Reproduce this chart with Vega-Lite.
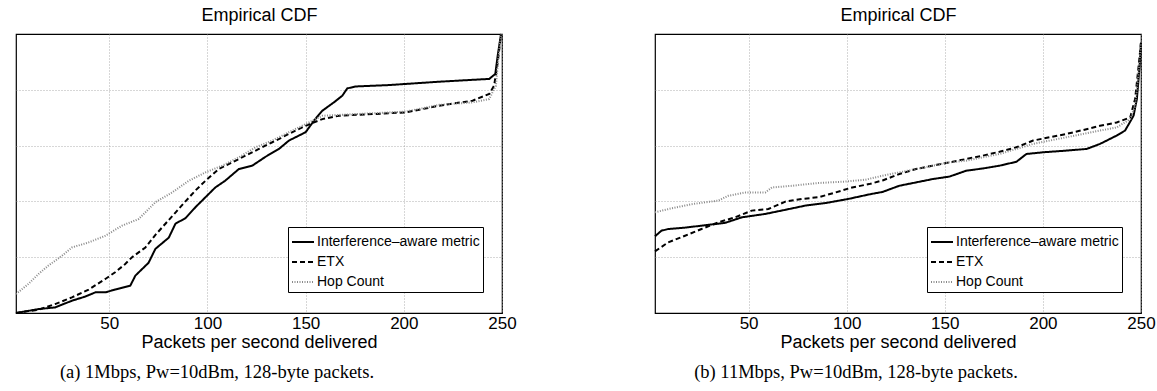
{
  "$schema": "https://vega.github.io/schema/vega-lite/v6.json",
  "padding": {"left": 11, "top": 5, "right": 0, "bottom": 0},
  "background": "white",
  "config": {
    "view": {"stroke": "black", "strokeWidth": 1.2},
    "font": "Liberation Sans",
    "axis": {"labelColor": "black", "titleColor": "black", "titleFontWeight": "normal", "labelFont": "Liberation Sans", "titleFont": "Liberation Sans"},
    "legend": {"labelLimit": 400},
    "title": {"color": "black"}
  },
  "datasets": {
    "cdf": [
      {"p":"a","m":"Interference–aware metric","x":2.5,"y":0},
      {"p":"a","m":"Interference–aware metric","x":14,"y":0.014},
      {"p":"a","m":"Interference–aware metric","x":22.4,"y":0.02},
      {"p":"a","m":"Interference–aware metric","x":31,"y":0.044},
      {"p":"a","m":"Interference–aware metric","x":37.8,"y":0.059},
      {"p":"a","m":"Interference–aware metric","x":42.9,"y":0.074},
      {"p":"a","m":"Interference–aware metric","x":48,"y":0.074},
      {"p":"a","m":"Interference–aware metric","x":53,"y":0.084},
      {"p":"a","m":"Interference–aware metric","x":60.7,"y":0.098},
      {"p":"a","m":"Interference–aware metric","x":63.3,"y":0.134},
      {"p":"a","m":"Interference–aware metric","x":70,"y":0.18},
      {"p":"a","m":"Interference–aware metric","x":73.5,"y":0.23},
      {"p":"a","m":"Interference–aware metric","x":80.3,"y":0.27},
      {"p":"a","m":"Interference–aware metric","x":83.7,"y":0.32},
      {"p":"a","m":"Interference–aware metric","x":88.8,"y":0.34},
      {"p":"a","m":"Interference–aware metric","x":94,"y":0.38},
      {"p":"a","m":"Interference–aware metric","x":99,"y":0.415},
      {"p":"a","m":"Interference–aware metric","x":104,"y":0.45},
      {"p":"a","m":"Interference–aware metric","x":109,"y":0.474},
      {"p":"a","m":"Interference–aware metric","x":116,"y":0.516},
      {"p":"a","m":"Interference–aware metric","x":122.8,"y":0.528},
      {"p":"a","m":"Interference–aware metric","x":129.6,"y":0.56},
      {"p":"a","m":"Interference–aware metric","x":136.4,"y":0.588},
      {"p":"a","m":"Interference–aware metric","x":141.5,"y":0.618},
      {"p":"a","m":"Interference–aware metric","x":150,"y":0.648},
      {"p":"a","m":"Interference–aware metric","x":154.3,"y":0.69},
      {"p":"a","m":"Interference–aware metric","x":158.5,"y":0.725},
      {"p":"a","m":"Interference–aware metric","x":164.4,"y":0.755},
      {"p":"a","m":"Interference–aware metric","x":168.7,"y":0.779},
      {"p":"a","m":"Interference–aware metric","x":171.2,"y":0.805},
      {"p":"a","m":"Interference–aware metric","x":175.5,"y":0.812},
      {"p":"a","m":"Interference–aware metric","x":192.5,"y":0.817},
      {"p":"a","m":"Interference–aware metric","x":218,"y":0.829},
      {"p":"a","m":"Interference–aware metric","x":243.5,"y":0.839},
      {"p":"a","m":"Interference–aware metric","x":246.6,"y":0.857},
      {"p":"a","m":"Interference–aware metric","x":247.8,"y":0.922},
      {"p":"a","m":"Interference–aware metric","x":249.5,"y":1.0},
      {"p":"a","m":"ETX","x":2.5,"y":0},
      {"p":"a","m":"ETX","x":14,"y":0.012},
      {"p":"a","m":"ETX","x":22.4,"y":0.032},
      {"p":"a","m":"ETX","x":31,"y":0.056},
      {"p":"a","m":"ETX","x":39.5,"y":0.084},
      {"p":"a","m":"ETX","x":48,"y":0.122},
      {"p":"a","m":"ETX","x":53,"y":0.146},
      {"p":"a","m":"ETX","x":58,"y":0.175},
      {"p":"a","m":"ETX","x":61.6,"y":0.2},
      {"p":"a","m":"ETX","x":68.4,"y":0.235},
      {"p":"a","m":"ETX","x":73.5,"y":0.28},
      {"p":"a","m":"ETX","x":78.6,"y":0.32},
      {"p":"a","m":"ETX","x":83.7,"y":0.36},
      {"p":"a","m":"ETX","x":88.8,"y":0.4},
      {"p":"a","m":"ETX","x":94,"y":0.44},
      {"p":"a","m":"ETX","x":99,"y":0.474},
      {"p":"a","m":"ETX","x":105.8,"y":0.516},
      {"p":"a","m":"ETX","x":112.6,"y":0.54},
      {"p":"a","m":"ETX","x":119.4,"y":0.564},
      {"p":"a","m":"ETX","x":126.2,"y":0.588},
      {"p":"a","m":"ETX","x":133,"y":0.612},
      {"p":"a","m":"ETX","x":141.5,"y":0.642},
      {"p":"a","m":"ETX","x":150,"y":0.671},
      {"p":"a","m":"ETX","x":158.5,"y":0.695},
      {"p":"a","m":"ETX","x":167,"y":0.707},
      {"p":"a","m":"ETX","x":184,"y":0.713},
      {"p":"a","m":"ETX","x":201,"y":0.719},
      {"p":"a","m":"ETX","x":218,"y":0.743},
      {"p":"a","m":"ETX","x":235,"y":0.761},
      {"p":"a","m":"ETX","x":243.5,"y":0.785},
      {"p":"a","m":"ETX","x":246,"y":0.815},
      {"p":"a","m":"ETX","x":247.8,"y":0.898},
      {"p":"a","m":"ETX","x":249.5,"y":1.0},
      {"p":"a","m":"Hop Count","x":2.5,"y":0.068},
      {"p":"a","m":"Hop Count","x":8.8,"y":0.104},
      {"p":"a","m":"Hop Count","x":14,"y":0.14},
      {"p":"a","m":"Hop Count","x":19,"y":0.17},
      {"p":"a","m":"Hop Count","x":25.9,"y":0.205},
      {"p":"a","m":"Hop Count","x":31,"y":0.235},
      {"p":"a","m":"Hop Count","x":39.5,"y":0.253},
      {"p":"a","m":"Hop Count","x":48,"y":0.277},
      {"p":"a","m":"Hop Count","x":56.5,"y":0.313},
      {"p":"a","m":"Hop Count","x":65,"y":0.337},
      {"p":"a","m":"Hop Count","x":73.5,"y":0.397},
      {"p":"a","m":"Hop Count","x":82,"y":0.432},
      {"p":"a","m":"Hop Count","x":90.5,"y":0.474},
      {"p":"a","m":"Hop Count","x":99,"y":0.504},
      {"p":"a","m":"Hop Count","x":107.5,"y":0.528},
      {"p":"a","m":"Hop Count","x":116,"y":0.558},
      {"p":"a","m":"Hop Count","x":124.5,"y":0.594},
      {"p":"a","m":"Hop Count","x":133,"y":0.618},
      {"p":"a","m":"Hop Count","x":141.5,"y":0.648},
      {"p":"a","m":"Hop Count","x":150,"y":0.677},
      {"p":"a","m":"Hop Count","x":158.5,"y":0.707},
      {"p":"a","m":"Hop Count","x":175.5,"y":0.713},
      {"p":"a","m":"Hop Count","x":201,"y":0.722},
      {"p":"a","m":"Hop Count","x":218,"y":0.746},
      {"p":"a","m":"Hop Count","x":235,"y":0.755},
      {"p":"a","m":"Hop Count","x":243.5,"y":0.767},
      {"p":"a","m":"Hop Count","x":246.9,"y":0.815},
      {"p":"a","m":"Hop Count","x":248.3,"y":0.922},
      {"p":"a","m":"Hop Count","x":249.5,"y":1.0},
      {"p":"b","m":"Interference–aware metric","x":2.3,"y":0.275},
      {"p":"b","m":"Interference–aware metric","x":5.6,"y":0.295},
      {"p":"b","m":"Interference–aware metric","x":9,"y":0.301},
      {"p":"b","m":"Interference–aware metric","x":17.6,"y":0.306},
      {"p":"b","m":"Interference–aware metric","x":26,"y":0.313},
      {"p":"b","m":"Interference–aware metric","x":38,"y":0.323},
      {"p":"b","m":"Interference–aware metric","x":46.6,"y":0.343},
      {"p":"b","m":"Interference–aware metric","x":58.5,"y":0.355},
      {"p":"b","m":"Interference–aware metric","x":68.8,"y":0.37},
      {"p":"b","m":"Interference–aware metric","x":79,"y":0.385},
      {"p":"b","m":"Interference–aware metric","x":89.2,"y":0.394},
      {"p":"b","m":"Interference–aware metric","x":101,"y":0.409},
      {"p":"b","m":"Interference–aware metric","x":111.4,"y":0.425},
      {"p":"b","m":"Interference–aware metric","x":118.3,"y":0.434},
      {"p":"b","m":"Interference–aware metric","x":126.8,"y":0.456},
      {"p":"b","m":"Interference–aware metric","x":135.3,"y":0.468},
      {"p":"b","m":"Interference–aware metric","x":143.8,"y":0.48},
      {"p":"b","m":"Interference–aware metric","x":152.4,"y":0.489},
      {"p":"b","m":"Interference–aware metric","x":160.9,"y":0.51},
      {"p":"b","m":"Interference–aware metric","x":169.4,"y":0.518},
      {"p":"b","m":"Interference–aware metric","x":177.9,"y":0.528},
      {"p":"b","m":"Interference–aware metric","x":186.5,"y":0.542},
      {"p":"b","m":"Interference–aware metric","x":191.6,"y":0.57},
      {"p":"b","m":"Interference–aware metric","x":200.1,"y":0.576},
      {"p":"b","m":"Interference–aware metric","x":212,"y":0.582},
      {"p":"b","m":"Interference–aware metric","x":222.3,"y":0.588},
      {"p":"b","m":"Interference–aware metric","x":229.1,"y":0.606},
      {"p":"b","m":"Interference–aware metric","x":237.6,"y":0.636},
      {"p":"b","m":"Interference–aware metric","x":241.9,"y":0.654},
      {"p":"b","m":"Interference–aware metric","x":246.2,"y":0.707},
      {"p":"b","m":"Interference–aware metric","x":247.9,"y":0.767},
      {"p":"b","m":"Interference–aware metric","x":249.3,"y":0.886},
      {"p":"b","m":"Interference–aware metric","x":250,"y":0.97},
      {"p":"b","m":"ETX","x":2.3,"y":0.221},
      {"p":"b","m":"ETX","x":9,"y":0.253},
      {"p":"b","m":"ETX","x":17.6,"y":0.277},
      {"p":"b","m":"ETX","x":26,"y":0.301},
      {"p":"b","m":"ETX","x":34.6,"y":0.325},
      {"p":"b","m":"ETX","x":43.1,"y":0.343},
      {"p":"b","m":"ETX","x":51.6,"y":0.367},
      {"p":"b","m":"ETX","x":60.1,"y":0.373},
      {"p":"b","m":"ETX","x":68.7,"y":0.399},
      {"p":"b","m":"ETX","x":77.2,"y":0.409},
      {"p":"b","m":"ETX","x":85.7,"y":0.415},
      {"p":"b","m":"ETX","x":94.3,"y":0.432},
      {"p":"b","m":"ETX","x":102.8,"y":0.45},
      {"p":"b","m":"ETX","x":111.4,"y":0.462},
      {"p":"b","m":"ETX","x":118.3,"y":0.475},
      {"p":"b","m":"ETX","x":126.8,"y":0.498},
      {"p":"b","m":"ETX","x":135.3,"y":0.516},
      {"p":"b","m":"ETX","x":143.8,"y":0.528},
      {"p":"b","m":"ETX","x":152.4,"y":0.54},
      {"p":"b","m":"ETX","x":160.9,"y":0.552},
      {"p":"b","m":"ETX","x":169.4,"y":0.564},
      {"p":"b","m":"ETX","x":177.9,"y":0.578},
      {"p":"b","m":"ETX","x":186.5,"y":0.594},
      {"p":"b","m":"ETX","x":195,"y":0.618},
      {"p":"b","m":"ETX","x":203.5,"y":0.63},
      {"p":"b","m":"ETX","x":212,"y":0.642},
      {"p":"b","m":"ETX","x":220.6,"y":0.656},
      {"p":"b","m":"ETX","x":229.1,"y":0.671},
      {"p":"b","m":"ETX","x":237.6,"y":0.683},
      {"p":"b","m":"ETX","x":244.5,"y":0.701},
      {"p":"b","m":"ETX","x":247,"y":0.767},
      {"p":"b","m":"ETX","x":248.8,"y":0.886},
      {"p":"b","m":"ETX","x":250,"y":0.97},
      {"p":"b","m":"Hop Count","x":2.3,"y":0.361},
      {"p":"b","m":"Hop Count","x":10.7,"y":0.375},
      {"p":"b","m":"Hop Count","x":20.9,"y":0.39},
      {"p":"b","m":"Hop Count","x":34.6,"y":0.403},
      {"p":"b","m":"Hop Count","x":39.6,"y":0.42},
      {"p":"b","m":"Hop Count","x":48.1,"y":0.432},
      {"p":"b","m":"Hop Count","x":58.5,"y":0.432},
      {"p":"b","m":"Hop Count","x":61.9,"y":0.45},
      {"p":"b","m":"Hop Count","x":72.1,"y":0.456},
      {"p":"b","m":"Hop Count","x":85.7,"y":0.466},
      {"p":"b","m":"Hop Count","x":99.4,"y":0.471},
      {"p":"b","m":"Hop Count","x":109.7,"y":0.478},
      {"p":"b","m":"Hop Count","x":118.3,"y":0.492},
      {"p":"b","m":"Hop Count","x":126.8,"y":0.504},
      {"p":"b","m":"Hop Count","x":135.3,"y":0.516},
      {"p":"b","m":"Hop Count","x":143.8,"y":0.528},
      {"p":"b","m":"Hop Count","x":152.4,"y":0.54},
      {"p":"b","m":"Hop Count","x":160.9,"y":0.546},
      {"p":"b","m":"Hop Count","x":169.4,"y":0.558},
      {"p":"b","m":"Hop Count","x":177.9,"y":0.57},
      {"p":"b","m":"Hop Count","x":186.5,"y":0.588},
      {"p":"b","m":"Hop Count","x":195,"y":0.606},
      {"p":"b","m":"Hop Count","x":203.5,"y":0.618},
      {"p":"b","m":"Hop Count","x":212,"y":0.63},
      {"p":"b","m":"Hop Count","x":220.6,"y":0.642},
      {"p":"b","m":"Hop Count","x":229.1,"y":0.654},
      {"p":"b","m":"Hop Count","x":237.6,"y":0.665},
      {"p":"b","m":"Hop Count","x":244.5,"y":0.695},
      {"p":"b","m":"Hop Count","x":247,"y":0.743},
      {"p":"b","m":"Hop Count","x":248.8,"y":0.863},
      {"p":"b","m":"Hop Count","x":250,"y":0.97}
    ]
  },
  "data": {"name": "cdf"},
  "spacing": 153,
  "bounds": "flush",
  "resolve": {"scale": {"color": "independent", "strokeDash": "independent", "strokeWidth": "independent", "x": "independent"}},
  "hconcat": [
    {
      "width": 486, "height": 279,
      "transform": [{"filter": "datum.p == 'a'"}],
      "title": {"text": "(a)  1Mbps, Pw=10dBm, 128-byte packets.", "orient": "bottom", "font": "Liberation Serif", "fontSize": 18.5, "fontWeight": "normal", "dx": -42, "offset": 12},
      "resolve": {"axis": {"x": "independent"}},
      "layer": [
        {
          "transform": [{"filter": "datum.m != 'Hop Count'"}],
          "mark": {"type": "line", "interpolate": "linear"},
          "encoding": {
            "x": {"field": "x", "type": "quantitative", "scale": {"domain": [2.5, 250], "nice": false, "zero": false},
              "axis": {"orient": "bottom", "values": [50, 100, 150, 200, 250], "labelFlush": false, "ticks": false, "domain": false, "grid": true, "gridColor": "#9a9a9a", "gridDash": [1, 2], "gridWidth": 0.8, "labelFontSize": 17, "labelPadding": 2, "title": "Packets per second delivered", "titleFontSize": 18, "titlePadding": 2}},
            "y": {"field": "y", "type": "quantitative", "scale": {"domain": [0, 1], "nice": false},
              "axis": {"values": [0.2, 0.4, 0.6, 0.8], "labels": false, "ticks": false, "domain": false, "title": null, "grid": true, "gridColor": "#9a9a9a", "gridDash": [1, 2], "gridWidth": 0.8}},
            "color": {"field": "m", "type": "nominal", "scale": {"domain": ["Interference–aware metric", "ETX", "Hop Count"], "range": ["black", "black", "#8a8a8a"]},
              "legend": {"title": null, "orient": "none", "legendX": 272, "legendY": 193, "strokeColor": "black", "fillColor": "white", "padding": 3, "rowPadding": 1, "symbolSize": 484, "labelFontSize": 14, "labelFont": "Liberation Sans", "labelOffset": 2, "labelColor": "black", "labelLimit": 400}},
            "strokeDash": {"field": "m", "type": "nominal", "scale": {"domain": ["Interference–aware metric", "ETX", "Hop Count"], "range": [[1, 0], [5, 3], [1, 1.5]]},
              "legend": {"title": null, "orient": "none", "legendX": 272, "legendY": 193, "strokeColor": "black", "fillColor": "white", "padding": 3, "rowPadding": 1, "symbolSize": 484, "labelFontSize": 14, "labelFont": "Liberation Sans", "labelOffset": 2, "labelColor": "black", "labelLimit": 400}},
            "strokeWidth": {"field": "m", "type": "nominal", "scale": {"domain": ["Interference–aware metric", "ETX", "Hop Count"], "range": [2, 2, 1.2]},
              "legend": {"title": null, "orient": "none", "legendX": 272, "legendY": 193, "strokeColor": "black", "fillColor": "white", "padding": 3, "rowPadding": 1, "symbolSize": 484, "labelFontSize": 14, "labelFont": "Liberation Sans", "labelOffset": 2, "labelColor": "black", "labelLimit": 400}}
          }
        },
        {
          "transform": [{"filter": "datum.m == 'Hop Count'"}],
          "mark": {"type": "line", "interpolate": "linear"},
          "encoding": {
            "x": {"field": "x", "type": "quantitative", "scale": {"domain": [2.5, 250], "nice": false, "zero": false},
              "axis": {"orient": "top", "labels": false, "ticks": false, "domain": false, "grid": false, "title": "Empirical CDF", "titleFontSize": 18, "titlePadding": 10}},
            "y": {"field": "y", "type": "quantitative", "scale": {"domain": [0, 1], "nice": false},
              "axis": {"values": [0.2, 0.4, 0.6, 0.8], "labels": false, "ticks": false, "domain": false, "title": null, "grid": true, "gridColor": "#9a9a9a", "gridDash": [1, 2], "gridWidth": 0.8}},
            "color": {"field": "m", "type": "nominal", "scale": {"domain": ["Interference–aware metric", "ETX", "Hop Count"], "range": ["black", "black", "#8a8a8a"]},
              "legend": {"title": null, "orient": "none", "legendX": 272, "legendY": 193, "strokeColor": "black", "fillColor": "white", "padding": 3, "rowPadding": 1, "symbolSize": 484, "labelFontSize": 14, "labelFont": "Liberation Sans", "labelOffset": 2, "labelColor": "black", "labelLimit": 400}},
            "strokeDash": {"field": "m", "type": "nominal", "scale": {"domain": ["Interference–aware metric", "ETX", "Hop Count"], "range": [[1, 0], [5, 3], [1, 1.5]]},
              "legend": {"title": null, "orient": "none", "legendX": 272, "legendY": 193, "strokeColor": "black", "fillColor": "white", "padding": 3, "rowPadding": 1, "symbolSize": 484, "labelFontSize": 14, "labelFont": "Liberation Sans", "labelOffset": 2, "labelColor": "black", "labelLimit": 400}},
            "strokeWidth": {"field": "m", "type": "nominal", "scale": {"domain": ["Interference–aware metric", "ETX", "Hop Count"], "range": [2, 2, 1.2]},
              "legend": {"title": null, "orient": "none", "legendX": 272, "legendY": 193, "strokeColor": "black", "fillColor": "white", "padding": 3, "rowPadding": 1, "symbolSize": 484, "labelFontSize": 14, "labelFont": "Liberation Sans", "labelOffset": 2, "labelColor": "black", "labelLimit": 400}}
          }
        }
      ]
    },
    {
      "width": 486, "height": 279,
      "transform": [{"filter": "datum.p == 'b'"}],
      "title": {"text": "(b)  11Mbps, Pw=10dBm, 128-byte packets.", "orient": "bottom", "font": "Liberation Serif", "fontSize": 18.5, "fontWeight": "normal", "dx": -42, "offset": 12},
      "resolve": {"axis": {"x": "independent"}},
      "layer": [
        {
          "transform": [{"filter": "datum.m != 'Hop Count'"}],
          "mark": {"type": "line", "interpolate": "linear"},
          "encoding": {
            "x": {"field": "x", "type": "quantitative", "scale": {"domain": [2.3, 250], "nice": false, "zero": false},
              "axis": {"orient": "bottom", "values": [50, 100, 150, 200, 250], "labelFlush": false, "ticks": false, "domain": false, "grid": true, "gridColor": "#9a9a9a", "gridDash": [1, 2], "gridWidth": 0.8, "labelFontSize": 17, "labelPadding": 2, "title": "Packets per second delivered", "titleFontSize": 18, "titlePadding": 2}},
            "y": {"field": "y", "type": "quantitative", "scale": {"domain": [0, 1], "nice": false},
              "axis": {"values": [0.2, 0.4, 0.6, 0.8], "labels": false, "ticks": false, "domain": false, "title": null, "grid": true, "gridColor": "#9a9a9a", "gridDash": [1, 2], "gridWidth": 0.8}},
            "color": {"field": "m", "type": "nominal", "scale": {"domain": ["Interference–aware metric", "ETX", "Hop Count"], "range": ["black", "black", "#8a8a8a"]},
              "legend": {"title": null, "orient": "none", "legendX": 272, "legendY": 193, "strokeColor": "black", "fillColor": "white", "padding": 3, "rowPadding": 1, "symbolSize": 484, "labelFontSize": 14, "labelFont": "Liberation Sans", "labelOffset": 2, "labelColor": "black", "labelLimit": 400}},
            "strokeDash": {"field": "m", "type": "nominal", "scale": {"domain": ["Interference–aware metric", "ETX", "Hop Count"], "range": [[1, 0], [5, 3], [1, 1.5]]},
              "legend": {"title": null, "orient": "none", "legendX": 272, "legendY": 193, "strokeColor": "black", "fillColor": "white", "padding": 3, "rowPadding": 1, "symbolSize": 484, "labelFontSize": 14, "labelFont": "Liberation Sans", "labelOffset": 2, "labelColor": "black", "labelLimit": 400}},
            "strokeWidth": {"field": "m", "type": "nominal", "scale": {"domain": ["Interference–aware metric", "ETX", "Hop Count"], "range": [2, 2, 1.2]},
              "legend": {"title": null, "orient": "none", "legendX": 272, "legendY": 193, "strokeColor": "black", "fillColor": "white", "padding": 3, "rowPadding": 1, "symbolSize": 484, "labelFontSize": 14, "labelFont": "Liberation Sans", "labelOffset": 2, "labelColor": "black", "labelLimit": 400}}
          }
        },
        {
          "transform": [{"filter": "datum.m == 'Hop Count'"}],
          "mark": {"type": "line", "interpolate": "linear"},
          "encoding": {
            "x": {"field": "x", "type": "quantitative", "scale": {"domain": [2.3, 250], "nice": false, "zero": false},
              "axis": {"orient": "top", "labels": false, "ticks": false, "domain": false, "grid": false, "title": "Empirical CDF", "titleFontSize": 18, "titlePadding": 10}},
            "y": {"field": "y", "type": "quantitative", "scale": {"domain": [0, 1], "nice": false},
              "axis": {"values": [0.2, 0.4, 0.6, 0.8], "labels": false, "ticks": false, "domain": false, "title": null, "grid": true, "gridColor": "#9a9a9a", "gridDash": [1, 2], "gridWidth": 0.8}},
            "color": {"field": "m", "type": "nominal", "scale": {"domain": ["Interference–aware metric", "ETX", "Hop Count"], "range": ["black", "black", "#8a8a8a"]},
              "legend": {"title": null, "orient": "none", "legendX": 272, "legendY": 193, "strokeColor": "black", "fillColor": "white", "padding": 3, "rowPadding": 1, "symbolSize": 484, "labelFontSize": 14, "labelFont": "Liberation Sans", "labelOffset": 2, "labelColor": "black", "labelLimit": 400}},
            "strokeDash": {"field": "m", "type": "nominal", "scale": {"domain": ["Interference–aware metric", "ETX", "Hop Count"], "range": [[1, 0], [5, 3], [1, 1.5]]},
              "legend": {"title": null, "orient": "none", "legendX": 272, "legendY": 193, "strokeColor": "black", "fillColor": "white", "padding": 3, "rowPadding": 1, "symbolSize": 484, "labelFontSize": 14, "labelFont": "Liberation Sans", "labelOffset": 2, "labelColor": "black", "labelLimit": 400}},
            "strokeWidth": {"field": "m", "type": "nominal", "scale": {"domain": ["Interference–aware metric", "ETX", "Hop Count"], "range": [2, 2, 1.2]},
              "legend": {"title": null, "orient": "none", "legendX": 272, "legendY": 193, "strokeColor": "black", "fillColor": "white", "padding": 3, "rowPadding": 1, "symbolSize": 484, "labelFontSize": 14, "labelFont": "Liberation Sans", "labelOffset": 2, "labelColor": "black", "labelLimit": 400}}
          }
        }
      ]
    }
  ]
}
